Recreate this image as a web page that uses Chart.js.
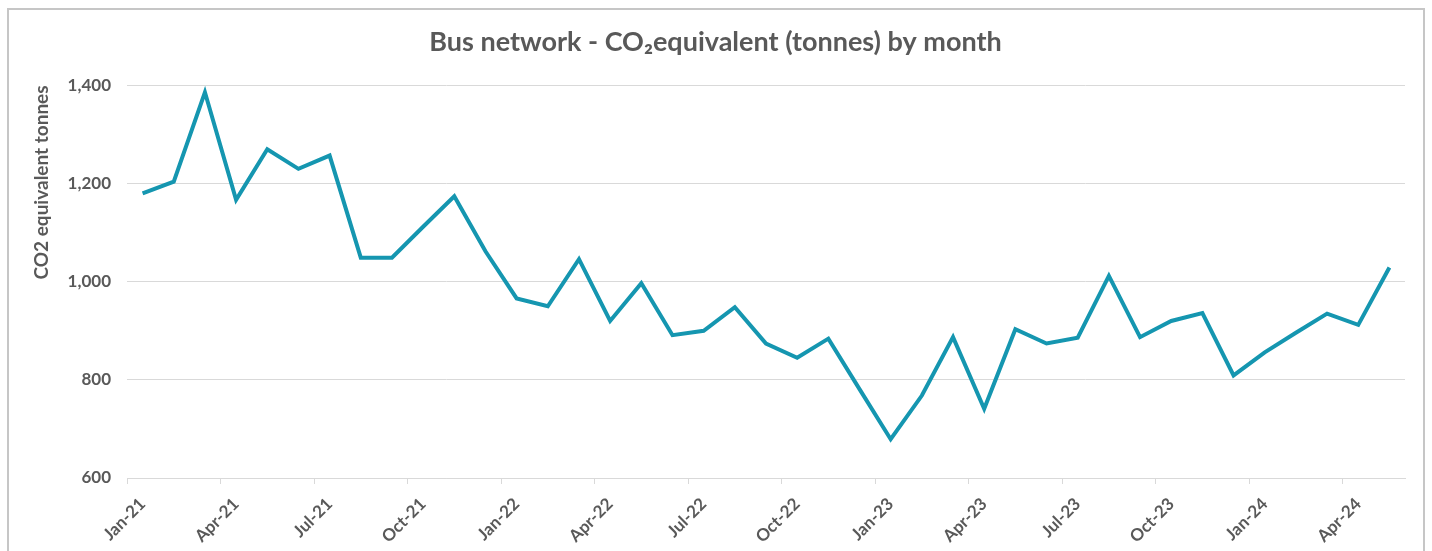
<!DOCTYPE html>
<html>
<head>
<meta charset="utf-8">
<script src="https://cdn.jsdelivr.net/npm/chart.js@4"></script>
<style>
  html, body { margin: 0; padding: 0; background: #fff; overflow: hidden; }
  #frame {
    position: absolute; left: 7px; top: 8px; width: 1418px; height: 600px;
    border: 2px solid #c6c6c6; box-sizing: border-box;
  }
  #wrap { position: absolute; left: 0; top: 0; width: 1432px; height: 551px; }
</style>
</head>
<body>
<div id="frame"></div>
<div id="wrap"><canvas id="myChart"></canvas></div>
<script>
// months shown on the axis (one point per month)
const months = [
  'Jan-21', 'Feb-21', 'Mar-21', 'Apr-21', 'May-21', 'Jun-21', 'Jul-21', 'Aug-21', 'Sep-21', 'Oct-21', 'Nov-21', 'Dec-21',
  'Jan-22', 'Feb-22', 'Mar-22', 'Apr-22', 'May-22', 'Jun-22', 'Jul-22', 'Aug-22', 'Sep-22', 'Oct-22', 'Nov-22', 'Dec-22',
  'Jan-23', 'Feb-23', 'Mar-23', 'Apr-23', 'May-23', 'Jun-23', 'Jul-23', 'Aug-23', 'Sep-23', 'Oct-23', 'Nov-23', 'Dec-23',
  'Jan-24', 'Feb-24', 'Mar-24', 'Apr-24', 'May-24'
];

// CO2 equivalent tonnes
const co2Tonnes = [
  1180, 1204, 1386, 1167, 1270, 1230, 1257, 1049, 1049, 1112, 1174, 1062,
  966, 950, 1046, 920, 997, 891, 900, 948, 874, 845, 884, 781,
  679, 768, 887, 741, 903, 874, 886, 1012, 887, 920, 936, 809,
  856, 896, 935, 912, 1029
];

const yTicks = [600, 800, 1000, 1200, 1400];

const textGrey = '#595959';
const gridGrey = '#d9d9d9';
const lineColour = '#1596b0';

const ctx = document.getElementById('myChart').getContext('2d');

new Chart(ctx, {
  type: 'line',
  data: {
    labels: months,
    datasets: [{
      label: 'CO2 equivalent tonnes',
      data: co2Tonnes,
      borderColor: lineColour,
      backgroundColor: lineColour,
      borderWidth: 4,
      pointRadius: 0,
      tension: 0,
      fill: false,
    }],
  },
  options: {
    responsive: true,
    maintainAspectRatio: false,
    animation: false,
    layout: { padding: { left: 26, right: 27, top: 0, bottom: 0 } },
    plugins: {
      legend: { display: false },
      tooltip: { enabled: false },
      title: {
        display: true,
        text: 'Bus network - CO₂equivalent (tonnes) by month',
        color: textGrey,
        font: { family: 'Lato', size: 27, weight: 'bold' },
        padding: { top: 26, bottom: 27 },
      },
    },
    scales: {
      x: {
        offset: true,
        grid: {
          offset: true,
          drawOnChartArea: false,
          drawTicks: true,
          tickLength: 6,
          color: (c) => (c.index % 3 === 0 ? gridGrey : 'rgba(0,0,0,0)'),
        },
        border: { display: true, color: gridGrey },
        ticks: {
          autoSkip: false,
          minRotation: 45,
          maxRotation: 45,
          color: textGrey,
          font: { family: 'Lato', size: 17, weight: 'bold' },
          padding: 10,
          callback: function (val, i) {
            return i % 3 === 0 ? months[i] : '';
          },
        },
        afterFit: (scale) => { scale.height = 73; },
      },
      y: {
        min: yTicks[0],
        max: yTicks[yTicks.length - 1],
        afterBuildTicks: (scale) => { scale.ticks = yTicks.map((v) => ({ value: v })); },
        grid: { color: gridGrey, drawTicks: false },
        border: { display: false },
        ticks: {
          color: textGrey,
          font: { family: 'Lato', size: 17, weight: 'bold' },
          padding: 16,
          callback: (v) => v.toLocaleString('en-US'),
        },
        title: {
          display: true,
          text: 'CO2 equivalent tonnes',
          align: 'end',
          color: textGrey,
          font: { family: 'Lato', size: 19, weight: 'bold' },
          padding: { top: 4, bottom: 0 },
        },
        afterFit: (scale) => { scale.width = 101; },
      },
    },
  },
});
</script>
</body>
</html>
